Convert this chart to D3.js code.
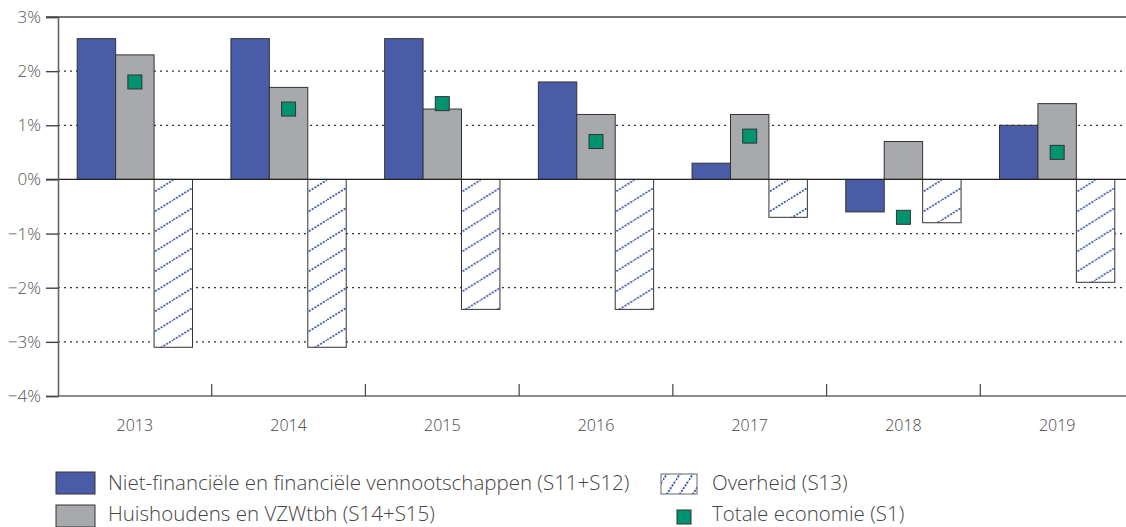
<!DOCTYPE html>
<html>
<head>
<meta charset="utf-8">
<script src="https://cdn.jsdelivr.net/npm/d3@7"></script>
<style>
  html, body { margin: 0; padding: 0; background: #fff; }
  svg { display: block; font-family: "Open Sans", "Noto Sans", sans-serif; font-weight: 300; }
</style>
</head>
<body>
<svg id="chart" width="1126" height="527"></svg>
<script>
// Financieringssaldo per sector, in % van het bbp
const years = ["2013", "2014", "2015", "2016", "2017", "2018", "2019"];
const vennootschappen = [2.6, 2.6, 2.6, 1.8, 0.3, -0.6, 1.0];
const huishoudens = [2.3, 1.7, 1.3, 1.2, 1.2, 0.7, 1.4];
const overheid = [-3.1, -3.1, -2.4, -2.4, -0.7, -0.8, -1.9];
const totaal = [1.8, 1.3, 1.4, 0.7, 0.8, -0.7, 0.5];
const yTicks = [3, 2, 1, 0, -1, -2, -3, -4];

const seriesNames = ["vennootschappen", "huishoudens", "overheid"];
const seriesValues = [vennootschappen, huishoudens, overheid];
const labels = {
  vennootschappen: "Niet-financiële en financiële vennootschappen (S11+S12)",
  huishoudens: "Huishoudens en VZWtbh (S14+S15)",
  overheid: "Overheid (S13)",
  totaal: "Totale economie (S1)"
};

const BLUE = "#4a5ca8", HATCH = "#3f52ab", GREY = "#a8a9ad", GREEN = "#00936f", EDGE = "#333";

const svg = d3.select("#chart");
const plotLeft = 58, plotRight = 1134, plotTop = 17, plotBottom = 396;

const x = d3.scaleBand().domain(years).range([plotLeft, plotRight]).paddingInner(0).paddingOuter(0);
const inner = d3.scaleBand().domain(seriesNames).range([0, x.bandwidth() * 0.75]);
const offset = x.bandwidth() * 0.125;
const y = d3.scaleLinear().domain([-4, 3]).range([plotBottom, plotTop]);

// hatch patterns for the government bars and their legend swatch
const defs = svg.append("defs");
function hatch(id, w, h) {
  const p = defs.append("pattern")
    .attr("id", id).attr("patternUnits", "userSpaceOnUse")
    .attr("width", w).attr("height", h);
  p.append("rect").attr("width", w).attr("height", h).attr("fill", "#fff");
  p.append("line").attr("x1", 0).attr("y1", h).attr("x2", w).attr("y2", 0)
    .attr("stroke", HATCH).attr("stroke-width", 1.9).attr("stroke-dasharray", "2,1.3");
}
hatch("hatch", 32, 20);
hatch("hatchLegend", 13, 20);

// dotted gridlines
svg.append("g").selectAll("line")
  .data(yTicks.filter(d => d !== 0 && d !== 3 && d !== -4))
  .join("line")
  .attr("x1", plotLeft).attr("x2", 1126)
  .attr("y1", d => y(d)).attr("y2", d => y(d))
  .attr("stroke", "#333").attr("stroke-width", 1.2).attr("stroke-dasharray", "2,4");

// top frame line
svg.append("line").attr("x1", 46).attr("x2", 1126).attr("y1", y(3)).attr("y2", y(3))
  .attr("stroke", "#444").attr("stroke-width", 1.6);

// bars
const fills = { vennootschappen: BLUE, huishoudens: GREY, overheid: "url(#hatch)" };
const groups = svg.append("g").selectAll("g")
  .data(years).join("g")
  .attr("transform", d => `translate(${x(d) + offset},0)`);

groups.selectAll("rect")
  .data((d, i) => seriesNames.map((s, k) => ({ s, v: seriesValues[k][i] })))
  .join("rect")
  .attr("x", d => inner(d.s))
  .attr("width", inner.bandwidth())
  .attr("y", d => y(Math.max(0, d.v)))
  .attr("height", d => Math.abs(y(d.v) - y(0)))
  .attr("fill", d => fills[d.s])
  .attr("stroke", EDGE).attr("stroke-width", 1);

// zero line
svg.append("line").attr("x1", 46).attr("x2", 1126).attr("y1", y(0)).attr("y2", y(0))
  .attr("stroke", "#222").attr("stroke-width", 1.2);

// total economy markers
svg.append("g").selectAll("rect")
  .data(years.map((d, i) => ({ year: d, v: totaal[i] })))
  .join("rect")
  .attr("x", d => x(d.year) + offset + inner("huishoudens") + inner.bandwidth() / 2 - 7)
  .attr("y", d => y(d.v) - 7)
  .attr("width", 14).attr("height", 14)
  .attr("fill", GREEN).attr("stroke", EDGE).attr("stroke-width", 1);

// y axis
const yAxis = svg.append("g").attr("transform", `translate(${plotLeft},0)`)
  .call(d3.axisLeft(y).tickValues(yTicks).tickSize(12).tickPadding(5)
    .tickFormat(d => (d < 0 ? "\u2212" + Math.abs(d) : d) + "%"));
yAxis.select(".domain").attr("stroke", "#666").attr("stroke-width", 1.6);
yAxis.selectAll(".tick line").attr("stroke", "#444").attr("stroke-width", 1.4);
yAxis.selectAll(".tick text").attr("fill", "#555").attr("font-size", 17)
  .attr("font-family", "'Open Sans', sans-serif").attr("font-weight", 300);

// x axis with category separators
svg.append("line").attr("x1", plotLeft).attr("x2", 1126).attr("y1", plotBottom).attr("y2", plotBottom)
  .attr("stroke", "#666").attr("stroke-width", 1.6);
svg.append("g").selectAll("line")
  .data(years.slice(1)).join("line")
  .attr("x1", d => x(d)).attr("x2", d => x(d))
  .attr("y1", plotBottom - 12).attr("y2", plotBottom)
  .attr("stroke", "#444").attr("stroke-width", 1.2);
svg.append("g").selectAll("text")
  .data(years).join("text")
  .attr("x", d => x(d) + x.bandwidth() / 2)
  .attr("y", 431)
  .attr("text-anchor", "middle")
  .attr("fill", "#444").attr("font-size", 16)
  .text(d => d);

// legend
const leg = svg.append("g").attr("font-size", 20.5).attr("fill", "#444");
const legendItems = [
  { key: "vennootschappen", sx: 56, sy: 472, w: 39, h: 22, fill: BLUE, tx: 108, ty: 490 },
  { key: "huishoudens", sx: 56, sy: 505, w: 39, h: 22, fill: GREY, tx: 108, ty: 521 },
  { key: "overheid", sx: 661, sy: 474, w: 36, h: 20, fill: "url(#hatchLegend)", tx: 712, ty: 490 },
  { key: "totaal", sx: 677, sy: 510, w: 14, h: 14, fill: GREEN, tx: 712, ty: 521 }
];
legendItems.forEach(it => {
  leg.append("rect").attr("x", it.sx).attr("y", it.sy).attr("width", it.w).attr("height", it.h)
    .attr("fill", it.fill).attr("stroke", it.key === "overheid" ? "#666" : EDGE).attr("stroke-width", 1);
  leg.append("text").attr("x", it.tx).attr("y", it.ty).text(labels[it.key]);
});
</script>
</body>
</html>
